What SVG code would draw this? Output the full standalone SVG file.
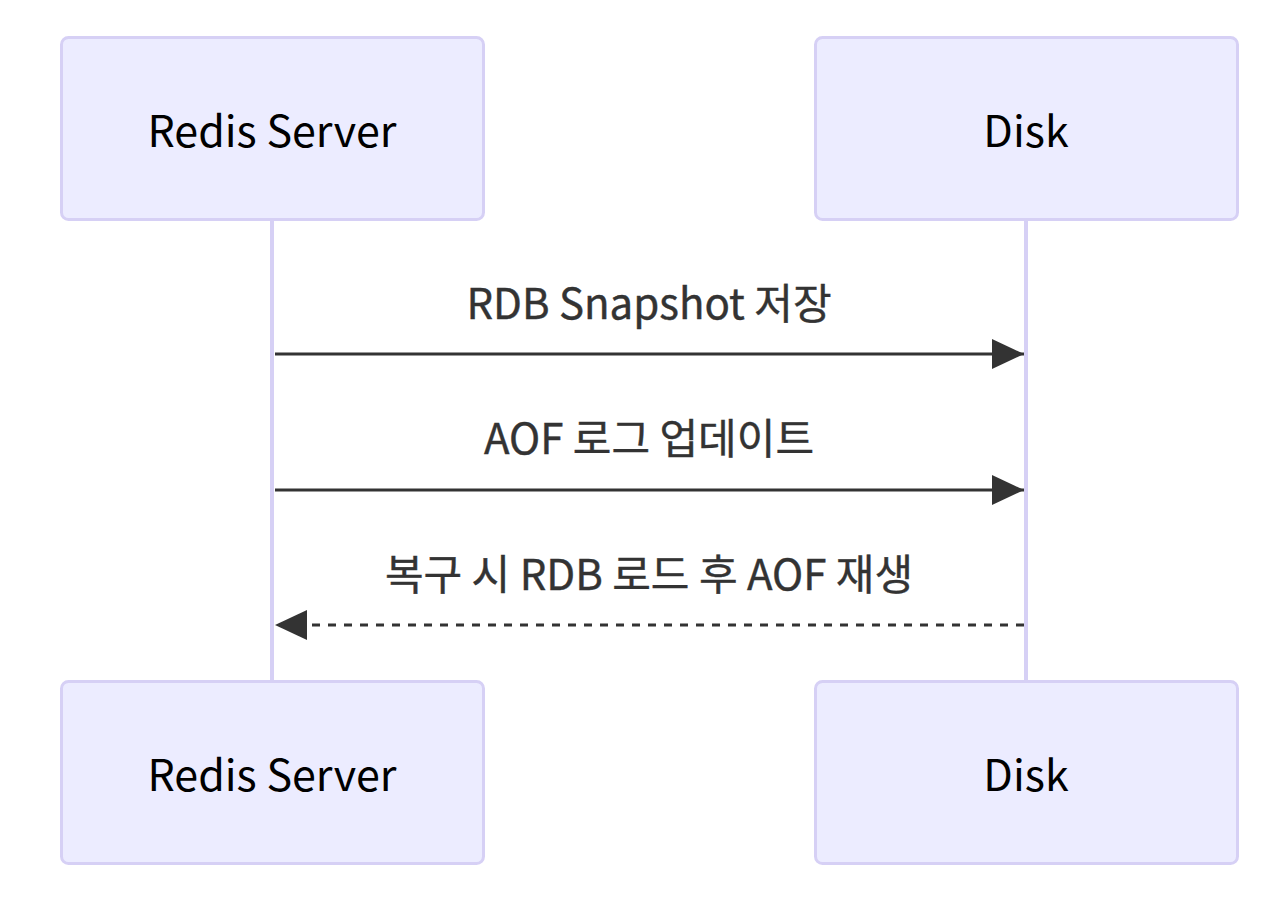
<svg xmlns="http://www.w3.org/2000/svg" width="1284" height="916" viewBox="0 0 1284 916">
<style>
.actor{fill:#ECECFF;stroke:#D6D0F5;stroke-width:3}
.atext{font-family:"Noto Sans CJK KR","Noto Sans",sans-serif;font-size:43px;fill:#000;text-anchor:middle;dominant-baseline:central}
.life{stroke:#D6D0F5;stroke-width:4}
.msg{stroke:#333;stroke-width:3;fill:none}
.mtext{font-family:"Noto Sans CJK KR","Noto Sans",sans-serif;font-size:42px;fill:#333;stroke:#333;stroke-width:0.4;text-anchor:middle}
</style>
<defs>
<marker id="ah" markerUnits="userSpaceOnUse" viewBox="0 0 32 30" refX="32" refY="15" markerWidth="32" markerHeight="30" orient="auto-start-reverse"><path d="M0,0 L32,15 L0,30 Z" fill="#333"/></marker>
</defs>
<g id="lifelines">
<line class="life" x1="272" y1="219" x2="272" y2="681"/>
<line class="life" x1="1026" y1="219" x2="1026" y2="681"/>
</g>
<g id="actor-redis-top"><rect class="actor" x="61.5" y="37.5" width="422" height="182" rx="7"/><text class="atext" x="272" y="128">Redis Server</text></g>
<g id="actor-disk-top"><rect class="actor" x="815.5" y="37.5" width="422" height="182" rx="7"/><text class="atext" x="1026" y="128">Disk</text></g>
<g id="actor-redis-bottom"><rect class="actor" x="61.5" y="681.5" width="422" height="182" rx="7"/><text class="atext" x="272" y="772">Redis Server</text></g>
<g id="actor-disk-bottom"><rect class="actor" x="815.5" y="681.5" width="422" height="182" rx="7"/><text class="atext" x="1026" y="772">Disk</text></g>
<g id="connectors">
<line class="msg" x1="275" y1="354" x2="1024" y2="354" marker-end="url(#ah)"/>
<line class="msg" x1="275" y1="490" x2="1024" y2="490" marker-end="url(#ah)"/>
<line class="msg" x1="1024" y1="625" x2="275" y2="625" stroke-dasharray="8,8" marker-end="url(#ah)"/>
</g>
<g id="labels">
<text class="mtext" x="649" y="319">RDB Snapshot 저장</text>
<text class="mtext" x="649" y="454">AOF 로그 업데이트</text>
<text class="mtext" x="649" y="590">복구 시 RDB 로드 후 AOF 재생</text>
</g>
</svg>
